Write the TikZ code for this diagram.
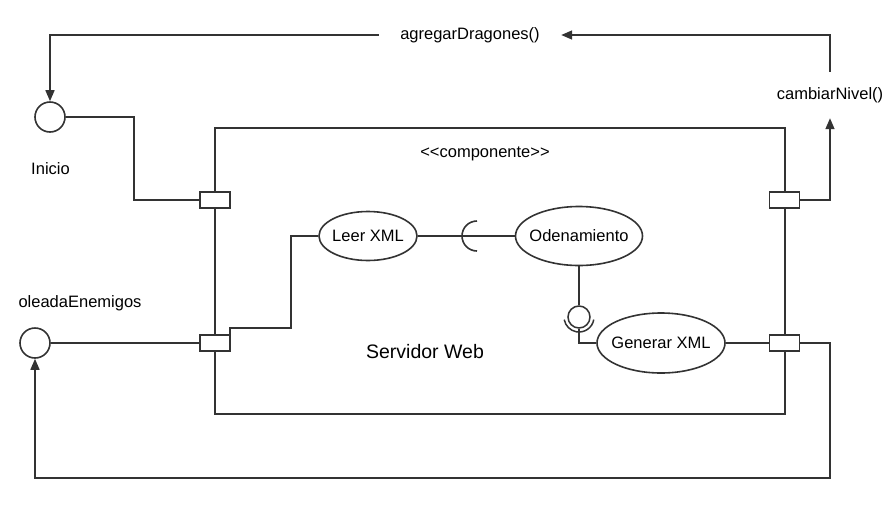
\documentclass[tikz,border=0pt]{standalone}
\usepackage{fontspec}
\setmainfont{Liberation Sans}
\usetikzlibrary{arrows.meta,calc,shapes.geometric}
\definecolor{ln}{HTML}{333333}
\begin{document}
\begin{tikzpicture}[x=1pt,y=-1pt,
  every node/.style={font=\fontsize{16.5}{20}\selectfont},
  wire/.style={draw=ln,line width=1.6pt},
  arr/.style={wire,-{Triangle[length=11pt,width=9pt]}},
  iface/.style={circle,draw=ln,line width=1.6pt,minimum size=30pt,inner sep=0pt},
  portbox/.style={rectangle,draw=ln,line width=1.6pt,fill=white,minimum width=30pt,minimum height=16pt,inner sep=0pt},
  uc/.style={ellipse,draw=ln,line width=1.6pt,inner sep=0pt},
  lbl/.style={inner sep=0pt}
]
\useasboundingbox (0,0) rectangle (895,507);
% component
\node[rectangle,draw=ln,line width=1.6pt,minimum width=570pt,minimum height=286pt,inner sep=0pt] (comp) at (500,271) {};
\node[lbl] (stereo) at (485,154) {<\kern0pt<componente>\kern0pt>};
\node[lbl,font=\fontsize{19.5}{23}\selectfont] (srv) at (425,352) {Servidor Web};
% interfaces
\node[iface] (inicio) at (50,117) {};
\node[lbl] (inicioL) at (50.5,169) {Inicio};
\node[iface] (olead) at (35,343) {};
\node[lbl] (oleadL) at (80,303) {oleadaEnemigos};
% method labels
\node[lbl,minimum width=182pt,minimum height=20pt] (agregar) at (470,35) {agregarDragones()};
\node[lbl,minimum height=46pt] (cambiar) at (830,95) {cambiarNivel()};
% use cases
\node[uc,minimum width=98pt,minimum height=49pt,label=center:{Leer XML}] (leer) at (368,236) {};
\node[uc,minimum width=127pt,minimum height=59pt,label=center:{Odenamiento}] (orden) at (579,236) {};
\node[uc,minimum width=128pt,minimum height=60pt,label=center:{Generar XML}] (gen) at (661,343) {};
% lollipop
\node[circle,draw=ln,line width=1.5pt,minimum size=22pt,inner sep=0pt] (lolly) at (579,317) {};
\coordinate (sock) at (477,236);
% ports
\node[portbox] (p1) at (215,200) {};
\node[portbox] (p2) at (215,343) {};
\node[portbox] (p3) at (784.5,200) {};
\node[portbox] (p4) at (784.5,343) {};
% connectors
\draw[arr] (cambiar.north) |- (agregar.east);
\draw[arr] (agregar.west) -| (inicio.north);
\draw[wire] (inicio.east) -- ++(68,0) |- (p1.west);
\draw[arr] (p3.east) -| (cambiar.south);
\draw[wire] (olead.east) -- (p2.west);
\draw[wire] (leer.west) -| (291,328) -| ([xshift=-1pt]p2.north east);
\draw[wire] (leer.east) -- (orden.west);
\draw[wire] ($(sock)+(0,15)$) arc (90:270:15);
\draw[wire] (orden.south) -- (lolly.north);
\draw[wire,line width=1.5pt] ($(lolly.center)+(10:15)$) arc (10:170:15);
\draw[wire] (lolly.south) |- (gen.west);
\draw[wire] (gen.east) -- (p4.west);
\draw[arr] (p4.east) -| (830,478) -| (olead.south);
\end{tikzpicture}
\end{document}
